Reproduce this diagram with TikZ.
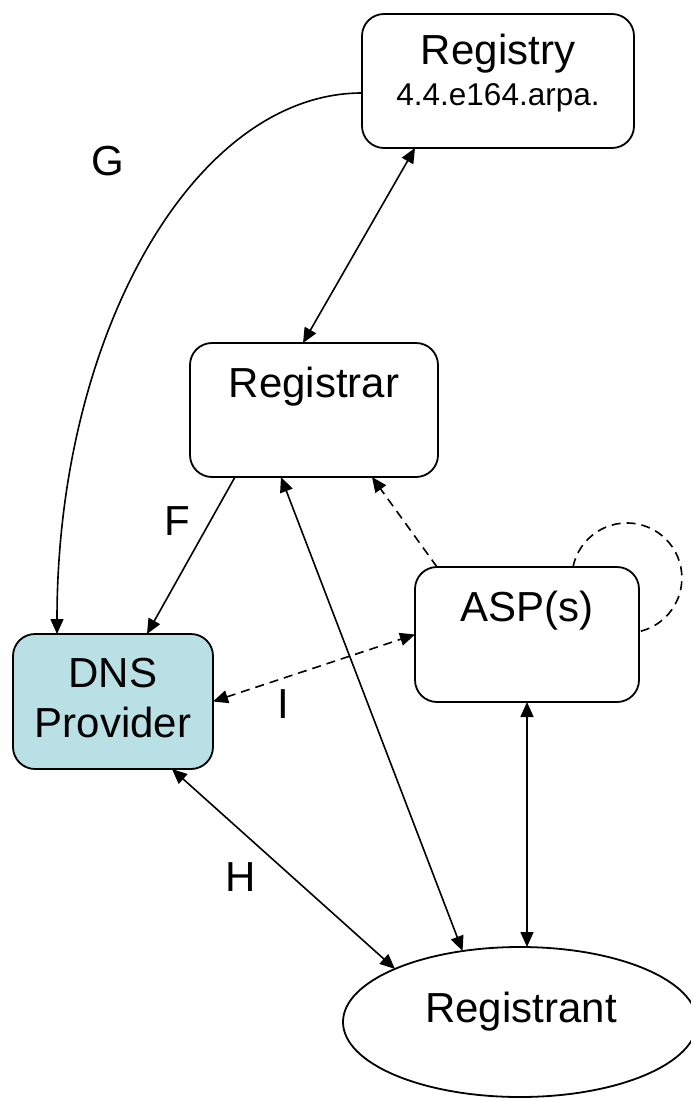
\documentclass[tikz,border=0pt]{standalone}
\usepackage{fontspec}
\setmainfont{Liberation Sans}
\usetikzlibrary{arrows.meta,calc,shapes.geometric}
\definecolor{dnsfill}{RGB}{185,224,228}
\begin{document}
\begin{tikzpicture}[x=1pt,y=-1pt,
  box/.style={draw, rounded corners=22pt, line width=1.8pt, inner sep=0pt, outer sep=0pt},
  bigtext/.style={inner sep=0pt, font=\fontsize{42}{48}\selectfont},
  smalltext/.style={inner sep=0pt, font=\fontsize{31.5}{36}\selectfont},
  conn/.style={line width=1.6pt},
  onearrow/.style={-{Triangle[length=15pt,width=13pt]}},
  twoarrow/.style={{Triangle[length=15pt,width=13pt]}-{Triangle[length=15pt,width=13pt]}},
  dashedline/.style={dash pattern=on 9pt off 6pt}
]
\useasboundingbox (0,0) rectangle (690,1099);

% boxes
\node[box, minimum width=272pt, minimum height=134pt] (registry) at (498,81) {};
\node[box, minimum width=248pt, minimum height=134pt] (registrar) at (314,410) {};
\node[box, minimum width=224pt, minimum height=135pt] (asp) at (527,634.5) {};
\node[box, fill=dnsfill, minimum width=200pt, minimum height=135pt] (dns) at (113,701.5) {};
\node[draw, ellipse, line width=1.8pt, inner sep=0pt, outer sep=0pt, minimum width=354pt, minimum height=150pt] (registrant) at (520,1022) {};

% texts
\node[bigtext, anchor=base] (registryT) at (498,65) {Registry};
\node[smalltext, anchor=base] (registryS) at (498,106) {4.4.e164.arpa.};
\node[bigtext, anchor=base] (registrarT) at (314,397) {Registrar};
\node[bigtext, anchor=base] (aspT) at (527,621) {ASP(s)};
\node[bigtext, anchor=base] (dnsT1) at (113,687) {DNS};
\node[bigtext, anchor=base] (dnsT2) at (113,737) {Provider};
\node[bigtext, anchor=base] (registrantT) at (521,1022) {Registrant};

% labels
\node[bigtext] (labG) at (108,161) {G};
\node[bigtext] (labF) at (177,521) {F};
\node[bigtext] (labI) at (283,704) {I};
\node[bigtext] (labH) at (241,877) {H};

% connectors
\draw[conn, twoarrow] ($(registry.south west)+(53,0)$) -- ($(registrar.north west)+(113,0)$);
\draw[conn, onearrow] ($(registry.west)+(0,12)$) .. controls +(-168,0) and +(0,-299) .. ($(dns.north west)+(44,0)$);
\draw[conn, onearrow] ($(registrar.south west)+(45,0)$) -- ($(dns.north west)+(134,0)$);
\draw[conn, twoarrow] (registrant.129.6) -- ($(registrar.south west)+(91,0)$);
\draw[conn, twoarrow] ($(dns.south east)+(-41,0)$) -- (registrant.157.4);
\draw[conn, twoarrow] (asp.south) -- (asp.south |- registrant.north);
\draw[conn, dashedline, onearrow] ($(asp.north west)+(22,0)$) -- ($(registrar.south east)+(-66,0)$);
\draw[conn, dashedline, twoarrow] (dns.east) -- (asp.west);
\draw[conn, dashedline] ($(asp.north west)+(158,0)$) arc[start angle=-168.5, end angle=77.5, radius=55];
\end{tikzpicture}
\end{document}
